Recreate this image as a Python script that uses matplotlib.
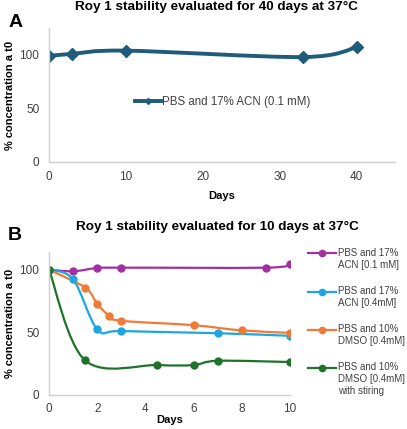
import numpy as np
import matplotlib
matplotlib.use("Agg")
import matplotlib.pyplot as plt
from matplotlib.path import Path
from matplotlib.patches import PathPatch
from matplotlib.lines import Line2D
from matplotlib.legend_handler import HandlerLine2D

plt.rcParams['font.family'] = ['Liberation Sans', 'DejaVu Sans']

# panel A data
days_a = [0, 3, 10, 33, 40]
conc_a = [99, 101, 104, 98, 107]
label_a = "PBS and 17% ACN (0.1 mM)"

# panel B data
days_b1 = [0, 1, 2, 3, 9, 10]
conc_b1 = [100, 98.7, 101.3, 101.6, 101.6, 104.2]
days_b2 = [0, 1, 2, 3, 7, 10]
conc_b2 = [100, 92.3, 52.5, 51, 49.3, 47.2]
days_b3 = [0, 1.5, 2, 2.5, 3, 6, 8, 10]
conc_b3 = [100, 85.7, 72.7, 63.1, 59.2, 55.7, 51.5, 49.6]
days_b4 = [0, 1.5, 4.5, 6, 7, 10]
conc_b4 = [100, 27.6, 23.9, 23.9, 27.3, 26.3]
labels_b = ["PBS and 17%\nACN [0.1 mM]",
            "PBS and 17%\nACN [0.4mM]",
            "PBS and 10%\nDMSO [0.4mM]",
            "PBS and 10%\nDMSO [0.4mM]\nwith stiring"]
colors_b = ['#A3309F', '#1DA6E0', '#EF7B37', '#1F7229']


def smooth_path(ax, x, y, color, lw):
    # excel style smoothed line: bezier through the points
    p = np.column_stack([x, y]).astype(float)
    pts = np.vstack([p[0], p, p[-1]])
    verts = [tuple(p[0])]
    codes = [Path.MOVETO]
    for i in range(1, len(pts) - 2):
        c1 = pts[i] + (pts[i + 1] - pts[i - 1]) / 6
        c2 = pts[i + 1] - (pts[i + 2] - pts[i]) / 6
        verts += [tuple(c1), tuple(c2), tuple(pts[i + 1])]
        codes += [Path.CURVE4] * 3
    patch = PathPatch(Path(verts, codes), fill=False, edgecolor=color,
                      lw=lw, capstyle='round', joinstyle='round')
    ax.add_patch(patch)


class FirstLineHandler(HandlerLine2D):
    # put the legend line next to the first text line (like excel)
    def __init__(self, nlines, **kw):
        super().__init__(**kw)
        self.nlines = nlines

    def create_artists(self, legend, orig_handle, xdescent, ydescent,
                       width, height, fontsize, trans):
        # line y = (height - ydescent)/2, so shift ydescent by a full line
        shift = (self.nlines - 1) * 1.23 * fontsize
        return super().create_artists(legend, orig_handle, xdescent,
                                      ydescent - shift, width, height,
                                      fontsize, trans)


def style_axes(ax):
    for s in ['top', 'right']:
        ax.spines[s].set_visible(False)
    for s in ['left', 'bottom']:
        ax.spines[s].set_color('#d0d0d0')
        ax.spines[s].set_linewidth(1.0)
    ax.tick_params(length=0, labelsize=8.5, colors='#404040')
    ax.tick_params(axis='x', pad=6.5)
    ax.tick_params(axis='y', pad=7)
    ax.set_yticks([0, 50, 100])


fig = plt.figure(figsize=(4.07, 4.29), dpi=100)

# ---- A ----
axA = fig.add_axes([0.1204, 0.6224, 0.85, 0.312])
smooth_path(axA, days_a, conc_a, '#1F5C7C', 2.8)
axA.plot(days_a, conc_a, ls='none', marker='D', ms=6, color='#1F5C7C')
axA.set_xlim(0, 45)
axA.set_ylim(0, 125)
axA.set_xticks([0, 10, 20, 30, 40])
style_axes(axA)
axA.set_xlabel("Days", fontsize=8, fontweight='bold', labelpad=6)
axA.set_ylabel("% concentration a t0", fontsize=8, fontweight='bold', labelpad=3)
hA = Line2D([], [], color='#1F5C7C', lw=2.8, marker='D', ms=3)
axA.legend([hA], [label_a], loc='center left', bbox_to_anchor=(0.22, 0.45),
           frameon=False, fontsize=8.3, handlelength=2.2, handletextpad=0.1,
           labelcolor='#404040')
fig.text(0.533, 0.983, "Roy 1 stability evaluated for 40 days at 37°C",
         ha='center', va='center', fontsize=9.7, fontweight='bold')
fig.text(0.02, 0.948, "A", ha='left', va='center', fontsize=14, fontweight='bold')

# ---- B ----
axB = fig.add_axes([0.1204, 0.0793, 0.592, 0.333])
series = [(days_b1, conc_b1), (days_b2, conc_b2), (days_b3, conc_b3), (days_b4, conc_b4)]
handles = []
hmap = {}
for (x, y), c, lab in zip(series, colors_b, labels_b):
    smooth_path(axB, x, y, c, 1.6)
    axB.plot(x, y, ls='none', marker='o', ms=5, color=c)
    h = Line2D([], [], color=c, lw=1.6, marker='o', ms=4.5)
    handles.append(h)
    hmap[h] = FirstLineHandler(lab.count('\n') + 1)
axB.set_xlim(0, 10)
axB.set_ylim(0, 114)
axB.set_xticks([0, 2, 4, 6, 8, 10])
style_axes(axB)
axB.tick_params(axis='x', pad=6)
axB.set_xlabel("Days", fontsize=8, fontweight='bold', labelpad=0)
axB.set_ylabel("% concentration a t0", fontsize=8, fontweight='bold', labelpad=3)
axB.legend(handles, labels_b, handler_map=hmap, loc='upper left',
           bbox_to_anchor=(1.04, 1.09), frameon=False, fontsize=7,
           handlelength=2.8, handletextpad=0.3, labelspacing=1.7,
           labelcolor='#404040')
fig.text(0.533, 0.47, "Roy 1 stability evaluated for 10 days at 37°C",
         ha='center', va='center', fontsize=9.7, fontweight='bold')
fig.text(0.02, 0.45, "B", ha='left', va='center', fontsize=14, fontweight='bold')

fig.savefig("out.png", dpi=100)
